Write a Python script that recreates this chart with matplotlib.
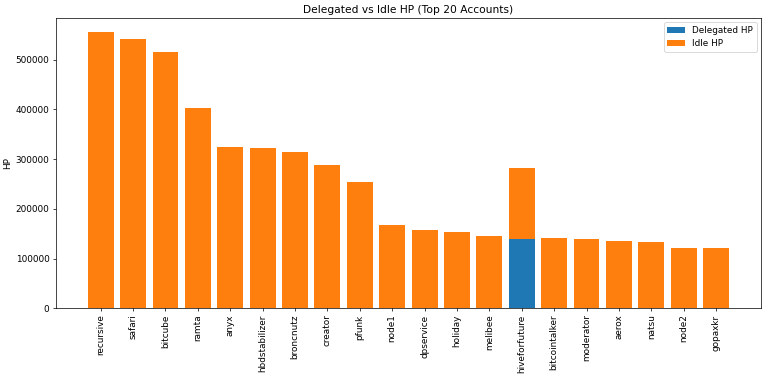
import matplotlib
matplotlib.use("Agg")
import matplotlib.pyplot as plt
import numpy as np

# ── Data ───────────────────────────────────────────────────────────────────────
accounts = [
    "recursive", "safari", "bitcube", "ramta", "anyx", "hbdstabilizer",
    "broncnutz", "creator", "pfunk", "node1", "dpservice", "holiday",
    "melibee", "hiveforfuture", "bitcointalker", "moderator", "aerox",
    "natsu", "node2", "gopaxkr",
]
delegated_hp = [
    0, 0, 0, 0, 0, 0, 0, 0, 0, 0, 0, 0, 0, 139700, 0, 0, 0, 0, 0, 0,
]
idle_hp = [
    556400, 541000, 516100, 403800, 325200, 323200, 313700, 287500, 254600,
    167300, 157900, 154400, 145200, 142500, 141100, 139700, 135100, 133700,
    121600, 121600,
]

# ── Plot ───────────────────────────────────────────────────────────────────────
DPI = 64
fig, ax = plt.subplots(figsize=(768 / DPI, 382 / DPI), dpi=DPI)

x = np.arange(len(accounts))
ax.bar(x, delegated_hp, label="Delegated HP", color="#1f77b4")
ax.bar(x, idle_hp, bottom=delegated_hp, label="Idle HP", color="#ff7f0e")

ax.set_xticks(x)
ax.set_xticklabels(accounts, rotation=90)
ax.set_ylabel("HP")
ax.set_title("Delegated vs Idle HP (Top 20 Accounts)")
ax.legend()

fig.subplots_adjust(left=0.0725, right=0.991, bottom=0.193, top=0.953)
plt.savefig("out.png", dpi=DPI)
plt.close()
